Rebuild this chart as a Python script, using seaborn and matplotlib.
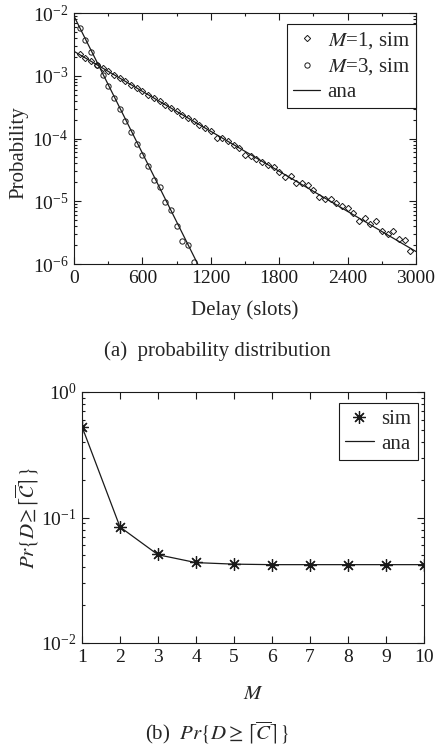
import numpy as np
import pandas as pd
import matplotlib
matplotlib.use("Agg")
import matplotlib.pyplot as plt
import seaborn as sns
from matplotlib.ticker import MultipleLocator, LogLocator, NullFormatter

# (a) delay distribution
delay_m1 = np.arange(50, 3000, 50)
prob_m1 = [2.19e-3, 1.92e-3, 1.70e-3, 1.50e-3, 1.33e-3, 1.18e-3, 1.04e-3, 9.2e-4, 8.2e-4, 7.2e-4,
           6.4e-4, 5.65e-4, 5.0e-4, 4.43e-4, 3.92e-4, 3.47e-4, 3.06e-4, 2.71e-4, 2.40e-4, 2.12e-4,
           1.88e-4, 1.66e-4, 1.47e-4, 1.30e-4, 1.03e-4, 1.02e-4, 9.0e-5, 7.98e-5, 7.06e-5, 5.5e-5,
           5.19e-5, 4.76e-5, 4.16e-5, 3.82e-5, 3.47e-5, 2.92e-5, 2.43e-5, 2.55e-5, 1.95e-5, 1.95e-5,
           1.79e-5, 1.53e-5, 1.15e-5, 1.09e-5, 1.09e-5, 9.4e-6, 8.3e-6, 7.8e-6, 6.5e-6, 4.9e-6,
           5.5e-6, 4.3e-6, 4.8e-6, 3.3e-6, 3.0e-6, 3.4e-6, 2.5e-6, 2.4e-6, 1.63e-6]
delay_m3 = np.arange(50, 1100, 50)
prob_m3 = [5.77e-3, 3.76e-3, 2.39e-3, 1.50e-3, 1.04e-3, 6.76e-4, 4.42e-4, 2.95e-4, 1.93e-4, 1.28e-4,
           8.2e-5, 5.4e-5, 3.7e-5, 2.15e-5, 1.66e-5, 9.7e-6, 7.2e-6, 4.1e-6, 2.3e-6, 1.98e-6, 1.08e-6]
ana_x_m1 = [0, 1000, 2000, 3000]
ana_y_m1 = [2.45e-3, 2.12e-4, 1.84e-5, 1.58e-6]
ana_x_m3 = [0, 250, 500, 750, 1000, 1085]
ana_y_m3 = [8.9e-3, 1.10e-3, 1.35e-4, 1.66e-5, 2.04e-6, 1.0e-6]

# (b) Pr{D >= ceil(C)} versus M
m_vals = np.arange(1, 11)
pr_sim = [0.53, 0.084, 0.051, 0.0442, 0.0428, 0.0421, 0.0421, 0.0421, 0.0421, 0.0421]
pr_ana = [0.53, 0.084, 0.0505, 0.0437, 0.0425, 0.0421, 0.0421, 0.0421, 0.0421, 0.0421]

sns.set_theme(style="ticks")
plt.rcParams['font.family'] = ['Liberation Serif', 'DejaVu Serif']
plt.rcParams['mathtext.fontset'] = 'stix'
plt.rcParams['axes.unicode_minus'] = False
plt.rcParams['axes.linewidth'] = 0.8
plt.rcParams['axes.edgecolor'] = 'k'

fig = plt.figure(figsize=(4.4, 7.49), dpi=100)
ax1 = fig.add_axes([74/440, 1-264/749, 342/440, 251/749])
ax2 = fig.add_axes([82/440, 1-643/749, 342/440, 251/749])

df1 = pd.DataFrame({'delay': delay_m1, 'prob': prob_m1})
df3 = pd.DataFrame({'delay': delay_m3, 'prob': prob_m3})

sns.lineplot(data=df1, x='delay', y='prob', ax=ax1, estimator=None, ls='', marker='D', ms=3.2,
             mfc='none', mec='k', mew=0.7, color='k', label=r'$M$=1, sim')
sns.lineplot(data=df3, x='delay', y='prob', ax=ax1, estimator=None, ls='', marker='o', ms=3.8,
             mfc='none', mec='k', mew=0.7, color='k', label=r'$M$=3, sim')
sns.lineplot(x=ana_x_m1, y=ana_y_m1, ax=ax1, estimator=None, color='k', lw=0.9, label='ana')
sns.lineplot(x=ana_x_m3, y=ana_y_m3, ax=ax1, estimator=None, color='k', lw=0.9, label='_nolegend_')

ax1.set_yscale('log')
ax1.set_xlim(0, 3000)
ax1.set_ylim(1e-6, 1e-2)
ax1.xaxis.set_major_locator(MultipleLocator(600))
ax1.xaxis.set_minor_locator(MultipleLocator(300))
ax1.set_xlabel('Delay (slots)', fontsize=15)
ax1.set_ylabel('Probability', fontsize=15)
ax1.xaxis.set_label_coords(0.5, -0.183)
ax1.xaxis.label.set_va('center')
ax1.yaxis.set_label_coords(-0.161, 0.442)
ax1.yaxis.label.set_va('center')
leg1 = ax1.legend(loc='upper right', bbox_to_anchor=(1.0, 1 - 11/251), borderaxespad=0,
                  fontsize=15, frameon=True, fancybox=False, edgecolor='k', framealpha=1,
                  handlelength=1.3, handletextpad=0.35, labelspacing=0.25, borderpad=0.3)
leg1.get_frame().set_linewidth(0.8)

sns.lineplot(x=m_vals, y=pr_sim, ax=ax2, estimator=None, ls='', marker=(8, 2, 0), ms=9,
             mec='k', mew=0.9, color='k', label='sim')
sns.lineplot(x=m_vals, y=pr_ana, ax=ax2, estimator=None, color='k', lw=0.9, label='ana')
ax2.set_yscale('log')
ax2.set_xlim(1, 10)
ax2.set_ylim(1e-2, 1e0)
ax2.xaxis.set_major_locator(MultipleLocator(1))
ax2.set_xlabel(r'$M$', fontsize=15)
ax2.set_ylabel(r'$Pr\{D\!\geq\!\lceil\overline{\mathcal{C}}\rceil\}$', fontsize=15)
ax2.xaxis.set_label_coords(0.5, -0.207)
ax2.xaxis.label.set_va('center')
ax2.yaxis.set_label_coords(-0.161, 0.5)
ax2.yaxis.label.set_va('center')
leg2 = ax2.legend(loc='upper right', bbox_to_anchor=(1 - 6.5/342, 1 - 11/251), borderaxespad=0,
                  fontsize=15, frameon=True, fancybox=False, edgecolor='k', framealpha=1,
                  handlelength=1.4, handletextpad=0.35, labelspacing=0.25, borderpad=0.3)
leg2.get_frame().set_linewidth(0.8)

for ax in (ax1, ax2):
    ax.yaxis.set_major_locator(LogLocator(base=10, numticks=10))
    ax.yaxis.set_minor_locator(LogLocator(base=10, subs=np.arange(2, 10), numticks=10))
    ax.yaxis.set_minor_formatter(NullFormatter())
    ax.tick_params(which='both', direction='in', top=True, right=True, colors='k',
                   labelsize=14, width=0.8, pad=4)
    ax.tick_params(which='major', length=5)
    ax.tick_params(which='minor', length=2.5)
    for s in ax.spines.values():
        s.set_visible(True)
        s.set_color('k')
        s.set_linewidth(0.8)
    ax.set_facecolor('white')

fig.text(217/440, 1 - 351/749, '(a)  probability distribution', ha='center', va='center', fontsize=15)
fig.text(217/440, 1 - 733/749, r'(b)  $Pr\{D \geq \lceil\overline{C}\rceil\}$', ha='center',
         va='center', fontsize=15)

fig.savefig('out.png', dpi=100, facecolor='white')
